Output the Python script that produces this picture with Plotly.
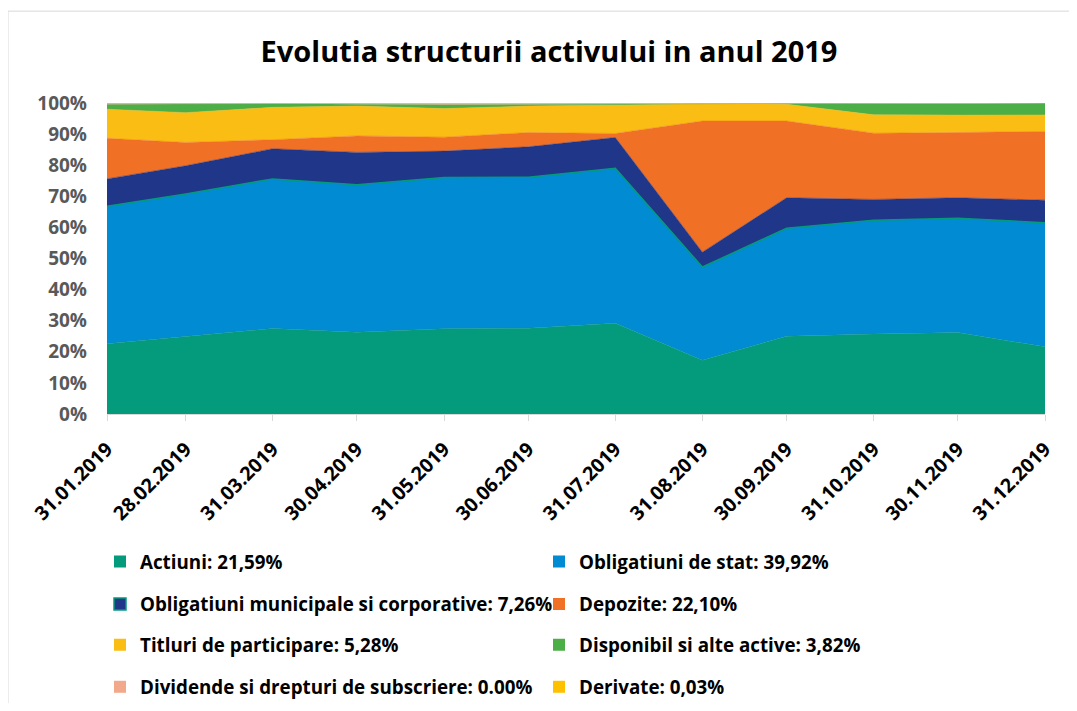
import plotly.graph_objects as go

dates = ["2019-01-31", "2019-02-28", "2019-03-31", "2019-04-30", "2019-05-31", "2019-06-30",
         "2019-07-31", "2019-08-31", "2019-09-30", "2019-10-31", "2019-11-30", "2019-12-31"]
date_labels = ["31.01.2019", "28.02.2019", "31.03.2019", "30.04.2019", "31.05.2019", "30.06.2019",
               "31.07.2019", "31.08.2019", "30.09.2019", "31.10.2019", "30.11.2019", "31.12.2019"]

actiuni = [22.7, 25.0, 27.5, 26.3, 27.5, 27.6, 29.2, 17.3, 25.0, 25.7, 26.2, 21.59]
oblig_stat = [44.4, 45.8, 48.1, 47.5, 48.7, 48.6, 49.9, 30.0, 34.8, 36.6, 36.8, 39.92]
oblig_munic = [8.8, 9.1, 9.7, 10.4, 8.5, 9.8, 9.9, 4.8, 9.8, 6.7, 6.6, 7.26]
depozite = [13.1, 7.5, 2.9, 5.3, 4.5, 4.6, 1.3, 42.2, 24.7, 21.3, 21.0, 22.10]
titluri = [9.4, 9.6, 10.4, 9.6, 9.2, 8.5, 9.1, 5.6, 5.4, 5.9, 5.6, 5.28]
disponibil = [1.6, 2.8, 1.2, 0.6, 1.2, 0.5, 0.4, 0.1, 0.3, 3.6, 3.6, 3.82]
dividende = [0.1, 0.1, 0.1, 0.3, 0.4, 0.3, 0.2, 0.0, 0.0, 0.1, 0.1, 0.0]
derivate = [0.3, 0.2, 0.1, 0.1, 0.2, 0.2, 0.1, 0.1, 0.1, 0.1, 0.2, 0.03]

series_names = ["Actiuni: 21,59%", "Obligatiuni de stat: 39,92%",
                "Obligatiuni municipale si corporative: 7,26%", "Depozite: 22,10%",
                "Titluri de participare: 5,28%", "Disponibil si alte active: 3,82%",
                "Dividende si drepturi de subscriere: 0.00%", "Derivate: 0,03%"]
series_values = [actiuni, oblig_stat, oblig_munic, depozite, titluri, disponibil, dividende, derivate]
colors = ["#049A7C", "#008BD2", "#1F3689", "#F07026", "#FABD14", "#4BAE47", "#F2A98B", "#FFC000"]
edge_colors = ["#049A7C", "#049A7C", "#1F3689", "#F07026", "#FABD14", "#4BAE47", "#F2A98B", "#FFC000"]
edge_widths = [0.5, 1.5, 0.5, 0.5, 0.5, 0.5, 0.5, 0.5]

FONT = "Open Sans"
OFF = 8  # page body margin in the browser
W, H = 1077 - 2 * OFF, 711 - 2 * OFF
L, R, T, B = 107 - OFF, 1045 - OFF, 103 - OFF, 414.5 - OFF
pw, ph = R - L, B - T

fig = go.Figure()
for name, vals, col, ec, ew in zip(series_names, series_values, colors, edge_colors, edge_widths):
    fig.add_trace(go.Scatter(
        x=dates, y=vals, name=name, mode="lines", stackgroup="one", groupnorm="percent",
        fillcolor=col, line=dict(color=ec, width=ew), showlegend=False, hoverinfo="x+y+name"))

# legend placement (page pixel positions of legend rows/columns)
col_x = [100, 539]
row_y = [562.5, 605, 646, 688]
legend_layouts = {}
for i, (name, col) in enumerate(zip(series_names, colors)):
    lid = "legend" if i == 0 else f"legend{i+1}"
    r, c = divmod(i, 2)
    mline = dict(color="#049A7C", width=1.5) if i == 2 else dict(color=col, width=0)
    fig.add_trace(go.Scatter(
        x=[None], y=[None], name=name, mode="markers",
        marker=dict(symbol="square", size=12, color=col, line=mline),
        legend=lid, showlegend=True))
    legend_layouts[lid] = dict(
        x=(col_x[c] - OFF - L) / pw, y=(B - (row_y[r] - OFF)) / ph,
        xanchor="left", yanchor="middle",
        bgcolor="rgba(0,0,0,0)", borderwidth=0,
        font=dict(family=FONT, size=18.8, color="#000000", weight="bold"))

fig.update_layout(
    width=W, height=H,
    margin=dict(l=L, r=W - R, t=T, b=H - B, autoexpand=False),
    paper_bgcolor="white", plot_bgcolor="white",
    title=dict(text="<b>Evolutia structurii activului in anul 2019</b>",
               x=(549 - OFF) / W, xanchor="center", y=1 - (52 - OFF) / H, yanchor="middle",
               font=dict(family=FONT, size=29, color="#000000")),
    xaxis=dict(type="date", range=[dates[0], dates[-1]], tickvals=dates, ticktext=date_labels,
               tickangle=-45, ticks="outside", ticklen=6, tickcolor="#D9D9D9", tickwidth=1,
               showline=True, linecolor="#D9D9D9", linewidth=1, showgrid=False, zeroline=False,
               ticklabelstandoff=9,
               tickfont=dict(family=FONT, size=19.5, color="#000000", weight="bold")),
    yaxis=dict(range=[0, 100], dtick=10, ticksuffix="%", showgrid=False, zeroline=False,
               showline=False, ticks="", ticklabelstandoff=19,
               tickfont=dict(family=FONT, size=19, color="#595959", weight="bold")),
    shapes=[dict(type="rect", xref="paper", yref="paper",
                 x0=(8 - OFF - L) / pw, x1=(1090 - L) / pw,
                 y0=(B - (11 - OFF)) / ph, y1=(B - 730) / ph,
                 line=dict(color="#D9D9D9", width=1), fillcolor="rgba(0,0,0,0)", layer="below")],
    **legend_layouts,
)

fig.write_html("out.html")
